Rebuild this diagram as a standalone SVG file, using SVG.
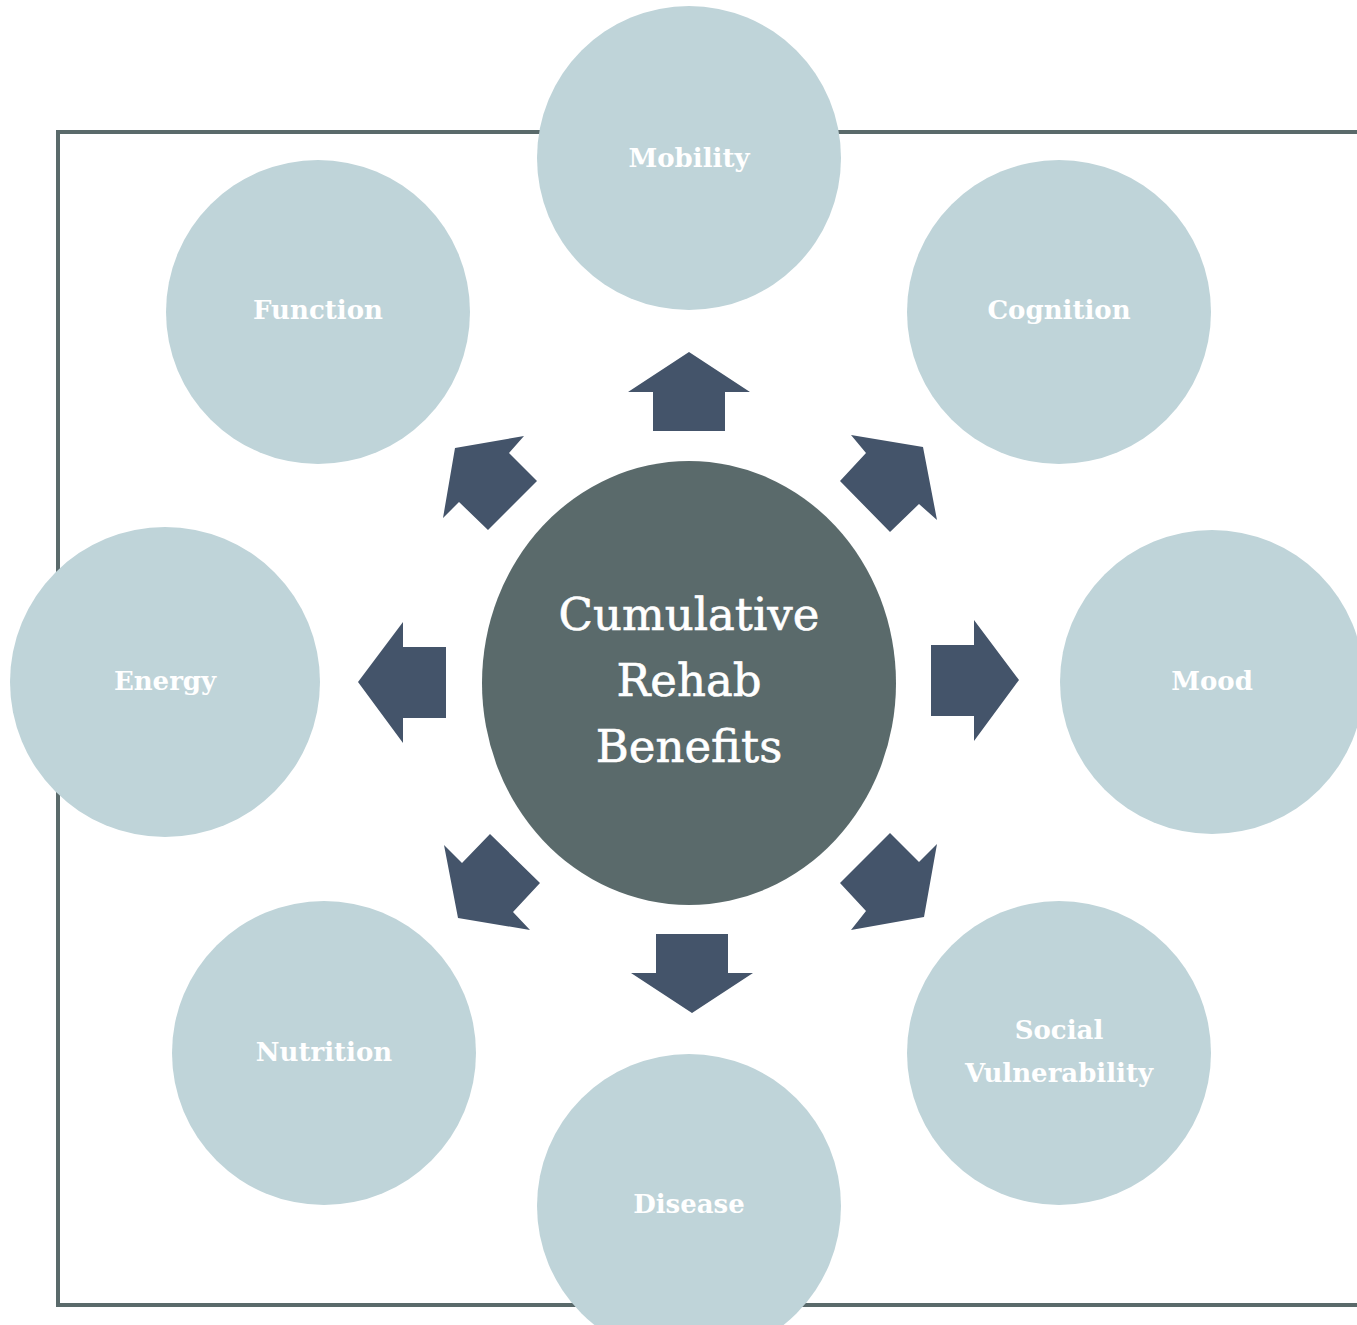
<svg xmlns="http://www.w3.org/2000/svg" width="1357" height="1325" viewBox="0 0 1357 1325">
<style>
.frame{fill:none;stroke:#5a6a6b;stroke-width:4}
.outer{fill:#bfd4d9}
.center{fill:#5a6a6b}
.arrow{fill:#44546a}
.lbl{font-family:"DejaVu Serif","Liberation Serif",serif;font-size:26px;font-weight:bold;fill:#ffffff;text-anchor:middle}
.ctr{font-family:"DejaVu Serif","Liberation Serif",serif;font-size:45px;fill:#ffffff;text-anchor:middle;stroke:#ffffff;stroke-width:0.6}
</style>
<rect x="0" y="0" width="1357" height="1325" fill="#ffffff"/>
<rect class="frame" x="58" y="132" width="1340" height="1173"/>
<g id="connectors">
<polygon class="arrow" points="689,352 750,392 725,392 725,431 653,431 653,392 628,392"/>
<polygon class="arrow" points="692,1013 753,973 728,973 728,934 656,934 656,973 631,973"/>
<polygon class="arrow" points="358,682 403,622 403,647 446,647 446,718 403,718 403,743"/>
<polygon class="arrow" points="1019,680 974,620 974,645 931,645 931,716 974,716 974,741"/>
<polygon class="arrow" points="455,448 524,436 509,453 537,481 488,530 459,502 443,518"/>
<polygon class="arrow" points="923,447 937,520 919,504 890,532 840,481 866,453 851,435"/>
<polygon class="arrow" points="458,918 530,930 513,912 540,883 490,834 462,863 444,845"/>
<polygon class="arrow" points="924,917 937,844 919,862 890,833 840,883 866,911 851,930"/>
</g>
<g id="node-center">
<ellipse class="center" cx="689" cy="683" rx="207" ry="222"/>
<text class="ctr" x="689" y="630">Cumulative</text>
<text class="ctr" x="689" y="696">Rehab</text>
<text class="ctr" x="689" y="762">Benefits</text>
</g>
<g id="node-mobility"><circle class="outer" cx="689" cy="158" r="152"/><text class="lbl" x="689" y="167">Mobility</text></g>
<g id="node-cognition"><circle class="outer" cx="1059" cy="312" r="152"/><text class="lbl" x="1059" y="319">Cognition</text></g>
<g id="node-mood"><circle class="outer" cx="1212" cy="682" r="152"/><text class="lbl" x="1212" y="690">Mood</text></g>
<g id="node-social"><circle class="outer" cx="1059" cy="1053" r="152"/><text class="lbl" x="1059" y="1039">Social</text><text class="lbl" x="1059" y="1082">Vulnerability</text></g>
<g id="node-disease"><circle class="outer" cx="689" cy="1206" r="152"/><text class="lbl" x="689" y="1213">Disease</text></g>
<g id="node-nutrition"><circle class="outer" cx="324" cy="1053" r="152"/><text class="lbl" x="324" y="1061">Nutrition</text></g>
<g id="node-energy"><circle class="outer" cx="165" cy="682" r="155"/><text class="lbl" x="165" y="690">Energy</text></g>
<g id="node-function"><circle class="outer" cx="318" cy="312" r="152"/><text class="lbl" x="318" y="319">Function</text></g>
</svg>
